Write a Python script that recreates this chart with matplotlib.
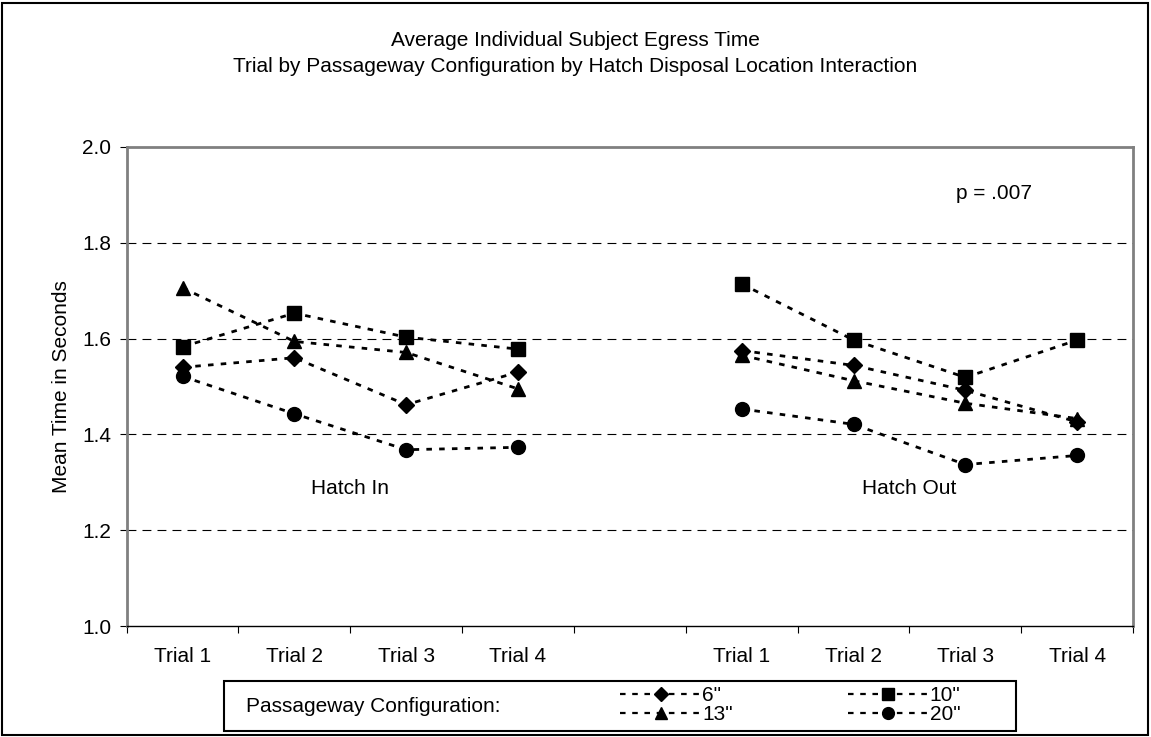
import numpy as np
import matplotlib
matplotlib.use("Agg")
import matplotlib.pyplot as plt
from matplotlib.lines import Line2D
from matplotlib.patches import Rectangle

plt.rcParams['font.family'] = ['Liberation Sans', 'DejaVu Sans']
FS = 15

# categories: 4 trials per hatch location, one empty slot between the groups
trials = ["Trial 1", "Trial 2", "Trial 3", "Trial 4"]
configs = ['6"', '10"', '13"', '20"']

hatch_in_6 = [1.540, 1.560, 1.462, 1.530]
hatch_in_10 = [1.583, 1.653, 1.603, 1.578]
hatch_in_13 = [1.706, 1.594, 1.571, 1.495]
hatch_in_20 = [1.521, 1.443, 1.368, 1.373]

hatch_out_6 = [1.575, 1.544, 1.492, 1.426]
hatch_out_10 = [1.714, 1.597, 1.519, 1.597]
hatch_out_13 = [1.565, 1.512, 1.465, 1.433]
hatch_out_20 = [1.453, 1.421, 1.337, 1.356]

p_text = "p = .007"

series_in = [hatch_in_6, hatch_in_10, hatch_in_13, hatch_in_20]
series_out = [hatch_out_6, hatch_out_10, hatch_out_13, hatch_out_20]
markers = ["D", "s", "^", "o"]
msizes = [8, 9.5, 10, 10]

fig = plt.figure(figsize=(11.51, 7.37), dpi=100)
ax = fig.add_axes([0.110, 0.1506, 0.8745, 0.650])

x = np.arange(9)
for vin, vout, m, ms, lab in zip(series_in, series_out, markers, msizes, configs):
    y = np.array(vin + [np.nan] + vout)
    ax.plot(x, y, color="black", lw=2, linestyle=(0, (2, 2.6)),
            marker=m, markersize=ms, markerfacecolor="black",
            markeredgecolor="black", label=lab)

ax.set_xlim(-0.5, 8.5)
ax.set_ylim(1.0, 2.0)
ax.set_yticks(np.arange(1.0, 2.01, 0.2))
ax.set_yticklabels([f"{v:.1f}" for v in np.arange(1.0, 2.01, 0.2)], fontsize=FS)
for gy in [1.2, 1.4, 1.6, 1.8]:
    ax.axhline(gy, color="black", lw=0.8, linestyle=(0, (8, 5.5)), zorder=0)

# tick marks at category boundaries, labels at centres
ax.set_xticks(np.arange(-0.5, 8.6, 1.0))
ax.set_xticklabels([])
ax.set_xticks([0, 1, 2, 3, 5, 6, 7, 8], minor=True)
ax.set_xticklabels(trials + trials, minor=True, fontsize=FS)
ax.tick_params(axis="x", which="minor", length=0, pad=15)
ax.tick_params(axis="x", which="major", length=5, direction="out")
ax.tick_params(axis="y", length=5, direction="out", pad=6)

for s in ["top", "right", "left"]:
    ax.spines[s].set_color("#808080")
    ax.spines[s].set_linewidth(2)
ax.spines["bottom"].set_color("black")
ax.spines["bottom"].set_linewidth(1)

ax.set_ylabel("Mean Time in Seconds", fontsize=FS, labelpad=8)

ax.text(1.5, 1.2875, "Hatch In", ha="center", va="center", fontsize=FS)
ax.text(6.5, 1.2875, "Hatch Out", ha="center", va="center", fontsize=FS)
ax.text(7.26, 1.902, p_text, ha="center", va="center", fontsize=FS)

fig.text(0.5, 1 - 41 / 737, "Average Individual Subject Egress Time",
         ha="center", va="center", fontsize=FS)
fig.text(0.5, 1 - 67 / 737,
         "Trial by Passageway Configuration by Hatch Disposal Location Interaction",
         ha="center", va="center", fontsize=FS)

# legend box
fig.patches.append(Rectangle((224 / 1151, 1 - 731 / 737), (1016 - 224) / 1151, 50 / 737,
                             transform=fig.transFigure, fill=False,
                             edgecolor="black", lw=1.5))
fig.text(246 / 1151, 1 - 706 / 737, "Passageway Configuration:",
         ha="left", va="center", fontsize=FS)
handles = [Line2D([], [], color="black", lw=1.6, linestyle=(0, (2.5, 3)),
                  marker=m, markersize=ms * 0.85) for m, ms in zip(markers, msizes)]
order = [0, 2, 1, 3]
fig.legend([handles[i] for i in order], [configs[i] for i in order], ncol=2,
           loc="center left", bbox_to_anchor=(620 / 1151, 1 - 705 / 737),
           frameon=False, fontsize=FS, handlelength=3.9, handletextpad=0.05,
           columnspacing=5.5, labelspacing=0.02, borderpad=0, borderaxespad=0)

# outer chart border
fig.patches.append(Rectangle((0.002, 0.003), 0.995, 0.993, transform=fig.transFigure,
                             fill=False, edgecolor="black", lw=1.5))

fig.savefig("out.png", dpi=100)
